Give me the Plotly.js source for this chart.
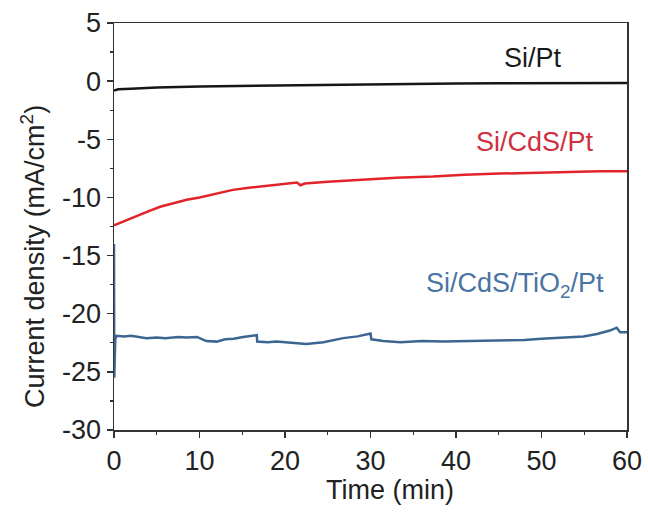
<!DOCTYPE html>
<html>
<head>
<meta charset="utf-8">
<script src="https://cdn.plot.ly/plotly-3.0.1.min.js"></script>
<style>
  html, body { margin: 0; padding: 0; background: #fff; }
  #chart { width: 648px; height: 513px; }
</style>
</head>
<body>
<div id="chart"></div>
<script>
// Chronoamperometry of the three photocathodes (time in min, current density in mA/cm2)
const timeSiPt = [0, 0.5, 2, 5, 10, 15, 20, 25, 30, 35, 40, 45, 50, 55, 60];
const jSiPt    = [-0.8, -0.7, -0.65, -0.55, -0.45, -0.4, -0.37, -0.33, -0.3, -0.25, -0.2, -0.18, -0.16, -0.15, -0.15];

const timeCdS = [0, 1, 2.5, 4, 5.4, 7, 8.5, 10, 12, 13.9, 16, 18, 20, 21.4, 21.8, 22.3, 25, 27.5, 29.6, 33, 37.3, 41, 45.1, 50, 53, 56.8, 60];
const jCdS    = [-12.4, -12.1, -11.6, -11.2, -10.8, -10.5, -10.2, -10.0, -9.7, -9.35, -9.15, -9.0, -8.85, -8.72, -8.95, -8.8, -8.65, -8.55, -8.45, -8.3, -8.2, -8.05, -7.95, -7.85, -7.8, -7.75, -7.75];

const timeTiO2 = [0, 0.03, 0.15, 0.3, 1.2, 2, 3.8, 5, 6, 7.5, 8.5, 9.7, 10.8, 12, 13, 14, 15.1, 16.7, 16.75, 18, 19, 20.5, 22.5, 24.5, 26.8, 28.5, 30.0, 30.1, 31.5, 33.5, 36, 38.5, 42, 45.1, 48, 50, 52.5, 54.9, 56.5, 58.0, 58.8, 59.2, 60];
const jTiO2    = [-14, -25.5, -22.2, -21.9, -21.95, -21.9, -22.1, -22.05, -22.1, -22.0, -22.05, -22.0, -22.35, -22.4, -22.2, -22.15, -22.0, -21.85, -22.4, -22.45, -22.4, -22.5, -22.6, -22.45, -22.1, -21.95, -21.7, -22.2, -22.35, -22.45, -22.35, -22.4, -22.35, -22.3, -22.25, -22.15, -22.05, -21.95, -21.75, -21.45, -21.2, -21.6, -21.6];

const seriesNames = ['Si/Pt', 'Si/CdS/Pt', 'Si/CdS/TiO<sub>2</sub>/Pt'];

const xTicks = [0, 10, 20, 30, 40, 50, 60];
const yTicks = [5, 0, -5, -10, -15, -20, -25, -30];

const font = 'Liberation Sans, Arial, sans-serif';
const axisColor = '#333';

const traces = [
  { x: timeSiPt, y: jSiPt, mode: 'lines', name: seriesNames[0],
    line: { color: '#161616', width: 2.5 } },
  { x: timeCdS, y: jCdS, mode: 'lines', name: seriesNames[1],
    line: { color: '#e2232a', width: 2.5 } },
  { x: timeTiO2, y: jTiO2, mode: 'lines', name: seriesNames[2],
    line: { color: '#3c6692', width: 2.5 } }
];

const axisCommon = {
  showline: true, linecolor: axisColor, linewidth: 1.5, mirror: true,
  showgrid: false, zeroline: false,
  ticks: 'outside', ticklen: 6, tickwidth: 1.5, tickcolor: axisColor,
  tickfont: { family: font, size: 27, color: '#222' }
};

const layout = {
  width: 648, height: 513,
  margin: { l: 114, r: 21, t: 23, b: 83 },
  paper_bgcolor: '#fff', plot_bgcolor: '#fff',
  showlegend: false,
  xaxis: Object.assign({}, axisCommon, {
    range: [0, 60], tickvals: xTicks, ticktext: xTicks.map(String),
    minor: { dtick: 5, tick0: 0, ticks: 'outside', ticklen: 3, tickcolor: axisColor, tickwidth: 1.2 }
  }),
  yaxis: Object.assign({}, axisCommon, {
    range: [-30, 5], tickvals: yTicks, ticktext: yTicks.map(String),
    minor: { dtick: 2.5, tick0: 0, ticks: 'outside', ticklen: 3, tickcolor: axisColor, tickwidth: 1.2 }
  }),
  annotations: [
    { text: 'Time (min)', xref: 'paper', yref: 'paper', x: 0.538, y: -0.147,
      xanchor: 'center', yanchor: 'middle',
      showarrow: false, font: { family: font, size: 27, color: '#222' } },
    { text: 'Current density (mA/cm<sup>2</sup>)', xref: 'paper', yref: 'paper',
      x: -0.158, y: 0.4275, textangle: -90, xanchor: 'center', yanchor: 'middle',
      showarrow: false, font: { family: font, size: 27, color: '#222' } },
    { text: seriesNames[0], x: 49.0, y: 2.0, showarrow: false,
      xanchor: 'center', yanchor: 'middle',
      font: { family: font, size: 27, color: '#1a1a1a' } },
    { text: seriesNames[1], x: 49.2, y: -5.2, showarrow: false,
      xanchor: 'center', yanchor: 'middle',
      font: { family: font, size: 27, color: '#cf3140' } },
    { text: seriesNames[2], x: 46.9, y: -17.5, showarrow: false,
      xanchor: 'center', yanchor: 'middle',
      font: { family: font, size: 27, color: '#4a74a3' } }
  ]
};

Plotly.newPlot('chart', traces, layout, { staticPlot: true, displayModeBar: false });
</script>
</body>
</html>
